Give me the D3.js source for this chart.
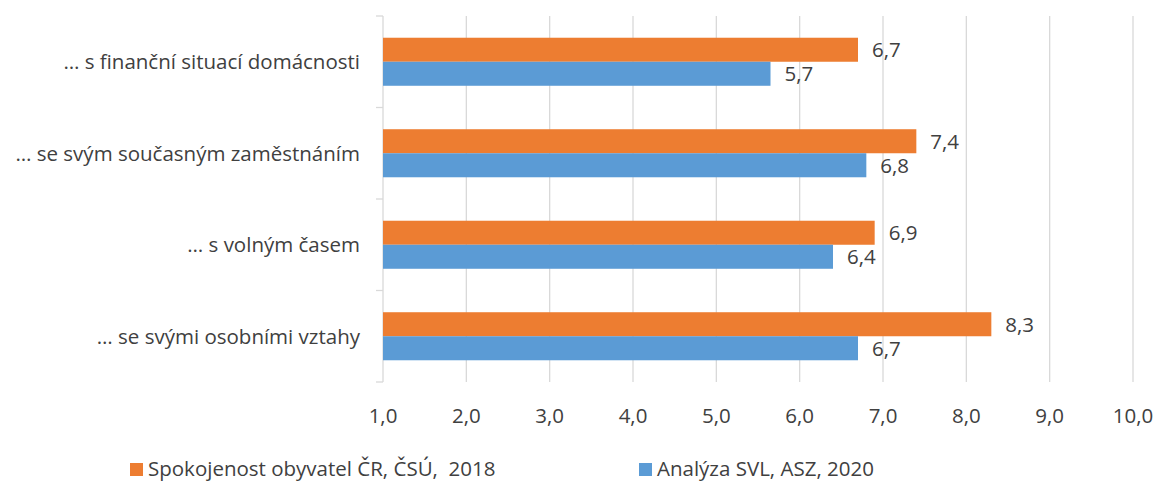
<!DOCTYPE html>
<html>
<head>
<meta charset="utf-8">
<script src="https://cdn.jsdelivr.net/npm/d3@7"></script>
<style>
  body { margin: 0; background: #fff; }
  svg text { font-family: "Open Sans", sans-serif; fill: #404040; }
</style>
</head>
<body>
<div id="chart"></div>
<script>
// data
var categories = [
    "… s finanční situací domácnosti",
    "… se svým současným zaměstnáním",
    "… s volným časem",
    "… se svými osobními vztahy"
];
var seriesNames = ["Spokojenost obyvatel ČR, ČSÚ,  2018", "Analýza SVL, ASZ, 2020"];
var csuValues = [6.7, 7.4, 6.9, 8.3];
var aszValues = [5.65, 6.8, 6.4, 6.7];
var xTicks = [1, 2, 3, 4, 5, 6, 7, 8, 9, 10];
var colors = ["#ED7D31", "#5B9BD5"];

var width = 1158, height = 482;
var margin = { top: 16, right: 25, bottom: 100, left: 383 };
var fontSize = "20.5px";

var svg = d3.select("#chart").append("svg")
    .attr("width", width)
    .attr("height", height);

var x = d3.scaleLinear().domain([1, 10]).range([margin.left, width - margin.right]);
var y0 = d3.scaleBand().domain(categories)
    .range([margin.top, height - margin.bottom])
    .paddingInner(0.475).paddingOuter(0.2375);
var y1 = d3.scaleBand().domain([0, 1]).range([0, y0.bandwidth()]);

var fmt = function (v) { return d3.format(".1f")(v).replace(".", ","); };

// vertical gridlines
svg.append("g").selectAll("line")
    .data(xTicks.slice(1))
    .enter().append("line")
    .attr("x1", d => x(d)).attr("x2", d => x(d))
    .attr("y1", margin.top).attr("y2", height - margin.bottom)
    .style("stroke", "#d9d9d9").style("stroke-width", 1.3);

// category axis line + ticks between categories
var yTop = margin.top, yBot = height - margin.bottom;
svg.append("line")
    .attr("x1", x(1)).attr("x2", x(1))
    .attr("y1", yTop).attr("y2", yBot)
    .style("stroke", "#d9d9d9").style("stroke-width", 1.3);
svg.append("g").selectAll("line")
    .data(d3.range(categories.length + 1))
    .enter().append("line")
    .attr("x1", x(1) - 7).attr("x2", x(1))
    .attr("y1", d => yTop + d * y0.step()).attr("y2", d => yTop + d * y0.step())
    .style("stroke", "#d9d9d9").style("stroke-width", 1.3);

// bars
var rows = categories.map(function (c, i) {
    return { cat: c, vals: [csuValues[i], aszValues[i]] };
});
var grp = svg.append("g").selectAll("g")
    .data(rows)
    .enter().append("g")
    .attr("transform", d => "translate(0," + y0(d.cat) + ")");

grp.selectAll("rect")
    .data(d => d.vals.map((v, k) => ({ v: v, k: k })))
    .enter().append("rect")
    .attr("x", x(1))
    .attr("y", d => y1(d.k))
    .attr("width", d => x(d.v) - x(1))
    .attr("height", y1.bandwidth())
    .style("fill", d => colors[d.k]);

grp.selectAll("text.val")
    .data(d => d.vals.map((v, k) => ({ v: v, k: k })))
    .enter().append("text")
    .attr("class", "val")
    .attr("x", d => x(d.v) + 14)
    .attr("y", d => y1(d.k) + y1.bandwidth() / 2)
    .attr("dy", "0.36em")
    .style("font-size", fontSize)
    .text(d => fmt(d.v));

// category labels
svg.append("g").selectAll("text")
    .data(categories)
    .enter().append("text")
    .attr("x", margin.left - 23)
    .attr("y", d => y0(d) + y0.bandwidth() / 2)
    .attr("dy", "0.36em")
    .attr("text-anchor", "end")
    .style("font-size", fontSize)
    .text(d => d);

// x tick labels
svg.append("g").selectAll("text")
    .data(xTicks)
    .enter().append("text")
    .attr("x", d => x(d))
    .attr("y", 423)
    .attr("text-anchor", "middle")
    .style("font-size", fontSize)
    .text(d => fmt(d));

// legend
var legendX = [130, 639];
var leg = svg.append("g").selectAll("g")
    .data(seriesNames)
    .enter().append("g")
    .attr("transform", (d, i) => "translate(" + legendX[i] + ",463)");
leg.append("rect")
    .attr("width", 13).attr("height", 13)
    .style("fill", (d, i) => colors[i]);
leg.append("text")
    .attr("x", 18).attr("y", 13)
    .style("font-size", fontSize)
    .attr("xml:space", "preserve")
    .style("white-space", "pre")
    .text(d => d);
</script>
</body>
</html>
